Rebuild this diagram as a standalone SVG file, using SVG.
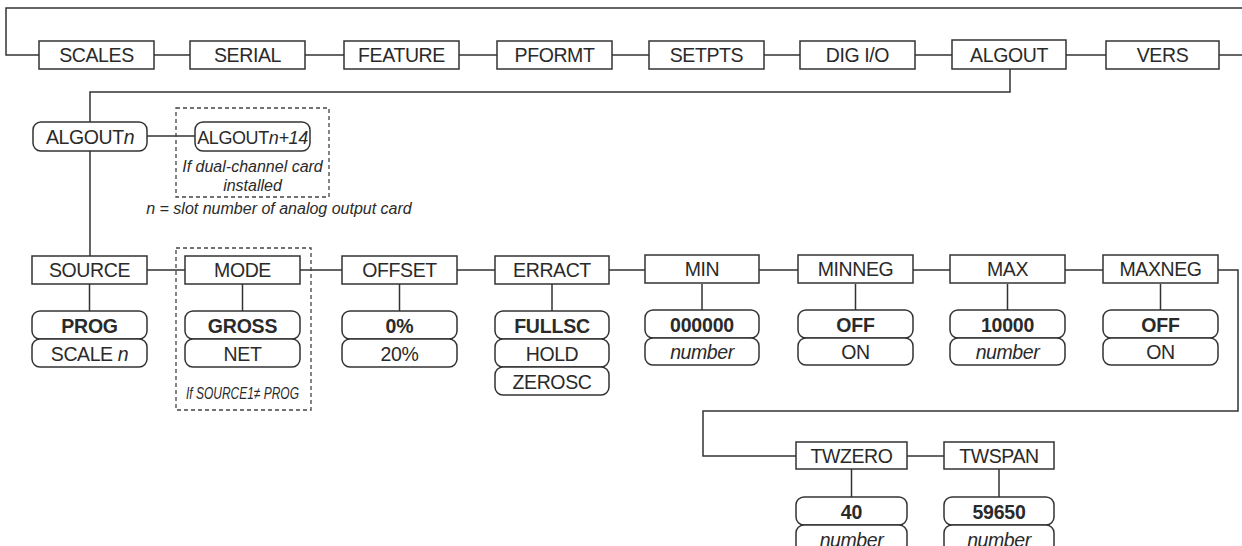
<svg xmlns="http://www.w3.org/2000/svg" width="1242" height="546" viewBox="0 0 1242 546">
<style>
.b{fill:#fff;stroke:#333;stroke-width:1.5}
.r{fill:#fff;stroke:#333;stroke-width:1.5}
.d{fill:none;stroke:#444;stroke-width:1.3;stroke-dasharray:4 3}
.c{fill:none;stroke:#333;stroke-width:1.5}
text{font-family:"Liberation Sans",Arial,sans-serif;font-size:19.5px;letter-spacing:-0.4px;fill:#2a2a2a;text-anchor:middle}
.bo{font-weight:bold;letter-spacing:-0.2px}
.it{font-style:italic}
.sm{font-size:16px;font-style:italic;letter-spacing:0}
</style>
<g id="connectors">
<path class="c" d="M1242,8 H6 V55 H39"/>
<path class="c" d="M154,55 H190 M305,55 H344 M459,55 H497 M612,55 H649 M764,55 H800 M915,55 H952 M1066,55 H1106 M1219,55 H1242"/>
<path class="c" d="M1010,69 V92 H90 V256"/>
<path class="c" d="M147,136 H195"/>
<path class="c" d="M147,270 H185 M300,270 H342 M457,270 H495 M609,270 H645 M759,270 H798 M913,270 H950 M1065,270 H1103"/>
<path class="c" d="M89.5,284 V311 M242.5,284 V311 M399.5,284 V311 M552,284 V311 M702,284 V311 M855.5,284 V311 M1007.5,284 V311 M1160.5,284 V311"/>
<path class="c" d="M1218,270 H1238 V411 H703 V456 H796"/>
<path class="c" d="M907,456 H944 M851.5,469 V497 M999,469 V497"/>
</g>
<g id="top-menu">
<g id="n-scales"><rect class="b" x="39" y="41" width="115" height="28"/><text x="96.5" y="62">SCALES</text></g>
<g id="n-serial"><rect class="b" x="190" y="41" width="115" height="28"/><text x="247.5" y="62">SERIAL</text></g>
<g id="n-feature"><rect class="b" x="344" y="41" width="115" height="28"/><text x="401.5" y="62">FEATURE</text></g>
<g id="n-pformt"><rect class="b" x="497" y="41" width="115" height="28"/><text x="554.5" y="62">PFORMT</text></g>
<g id="n-setpts"><rect class="b" x="649" y="41" width="115" height="28"/><text x="706.5" y="62">SETPTS</text></g>
<g id="n-digio"><rect class="b" x="800" y="41" width="115" height="28"/><text x="857.5" y="62">DIG I/O</text></g>
<g id="n-algout"><rect class="b" x="952" y="40" width="114" height="29"/><text x="1009" y="61.5">ALGOUT</text></g>
<g id="n-vers"><rect class="b" x="1106" y="41" width="113" height="28"/><text x="1162.5" y="62">VERS</text></g>
</g>
<g id="n-algoutn"><rect class="r" x="33" y="122" width="114" height="29" rx="8"/><text x="90" y="143.5">ALGOUT<tspan class="it">n</tspan></text></g>
<g id="n-algoutn14">
<rect class="d" x="176" y="108" width="153" height="89"/>
<rect class="r" x="195" y="122" width="115" height="29" rx="8"/><text x="252.5" y="143.5" style="font-size:18px">ALGOUT<tspan class="it">n+14</tspan></text>
<text class="sm" x="252.5" y="172">If dual-channel card</text>
<text class="sm" x="252.5" y="191">installed</text>
</g>
<text class="sm" x="279" y="214">n = slot number of analog output card</text>
<g id="n-source"><rect class="b" x="32" y="256" width="115" height="28"/><text x="89.5" y="277">SOURCE</text>
<rect class="r" x="32" y="311" width="115" height="28" rx="8"/><text class="bo" x="89.5" y="332.5">PROG</text>
<rect class="r" x="32" y="339" width="115" height="28" rx="8"/><text x="89.5" y="360.5">SCALE <tspan class="it">n</tspan></text></g>
<g id="n-mode">
<rect class="d" x="176" y="248" width="135" height="162"/>
<rect class="b" x="185" y="256" width="115" height="28"/><text x="242.5" y="277">MODE</text>
<rect class="r" x="185" y="311" width="115" height="28" rx="8"/><text class="bo" x="242.5" y="332.5">GROSS</text>
<rect class="r" x="185" y="339" width="115" height="28" rx="8"/><text x="242.5" y="360.5">NET</text>
<text class="it" x="242.5" y="399" style="font-size:17px;letter-spacing:0" textLength="113" lengthAdjust="spacingAndGlyphs">If SOURCE1≠ PROG</text>
</g>
<g id="n-offset"><rect class="b" x="342" y="256" width="115" height="28"/><text x="399.5" y="277">OFFSET</text>
<rect class="r" x="342" y="311" width="115" height="28" rx="8"/><text class="bo" x="399.5" y="332.5">0%</text>
<rect class="r" x="342" y="339" width="115" height="28" rx="8"/><text x="399.5" y="360.5">20%</text></g>
<g id="n-erract"><rect class="b" x="495" y="256" width="114" height="28"/><text x="552" y="277">ERRACT</text>
<rect class="r" x="495" y="311" width="114" height="28" rx="8"/><text class="bo" x="552" y="332.5">FULLSC</text>
<rect class="r" x="495" y="339" width="114" height="28" rx="8"/><text x="552" y="360.5">HOLD</text>
<rect class="r" x="495" y="367" width="114" height="28" rx="8"/><text x="552" y="388.5">ZEROSC</text></g>
<g id="n-min"><rect class="b" x="645" y="255" width="114" height="28"/><text x="702" y="276">MIN</text>
<rect class="r" x="645" y="310" width="114" height="28" rx="8"/><text class="bo" x="702" y="331.5">000000</text>
<rect class="r" x="645" y="338" width="114" height="27" rx="8"/><text class="it" x="702" y="359">number</text></g>
<g id="n-minneg"><rect class="b" x="798" y="255" width="115" height="28"/><text x="855.5" y="276">MINNEG</text>
<rect class="r" x="798" y="310" width="115" height="28" rx="8"/><text class="bo" x="855.5" y="331.5">OFF</text>
<rect class="r" x="798" y="338" width="115" height="27" rx="8"/><text x="855.5" y="359">ON</text></g>
<g id="n-max"><rect class="b" x="950" y="255" width="115" height="28"/><text x="1007.5" y="276">MAX</text>
<rect class="r" x="950" y="310" width="115" height="28" rx="8"/><text class="bo" x="1007.5" y="331.5">10000</text>
<rect class="r" x="950" y="338" width="115" height="27" rx="8"/><text class="it" x="1007.5" y="359">number</text></g>
<g id="n-maxneg"><rect class="b" x="1103" y="255" width="115" height="28"/><text x="1160.5" y="276">MAXNEG</text>
<rect class="r" x="1103" y="310" width="115" height="28" rx="8"/><text class="bo" x="1160.5" y="331.5">OFF</text>
<rect class="r" x="1103" y="338" width="115" height="27" rx="8"/><text x="1160.5" y="359">ON</text></g>
<g id="n-twzero"><rect class="b" x="796" y="442" width="111" height="27"/><text x="851.5" y="462.5">TWZERO</text>
<rect class="r" x="796" y="497" width="111" height="28" rx="8"/><text class="bo" x="851.5" y="518.5">40</text>
<rect class="r" x="796" y="525" width="111" height="28" rx="8"/><text class="it" x="851.5" y="547">number</text></g>
<g id="n-twspan"><rect class="b" x="944" y="442" width="110" height="27"/><text x="999" y="462.5">TWSPAN</text>
<rect class="r" x="944" y="497" width="110" height="28" rx="8"/><text class="bo" x="999" y="518.5">59650</text>
<rect class="r" x="944" y="525" width="110" height="28" rx="8"/><text class="it" x="999" y="547">number</text></g>
</svg>
